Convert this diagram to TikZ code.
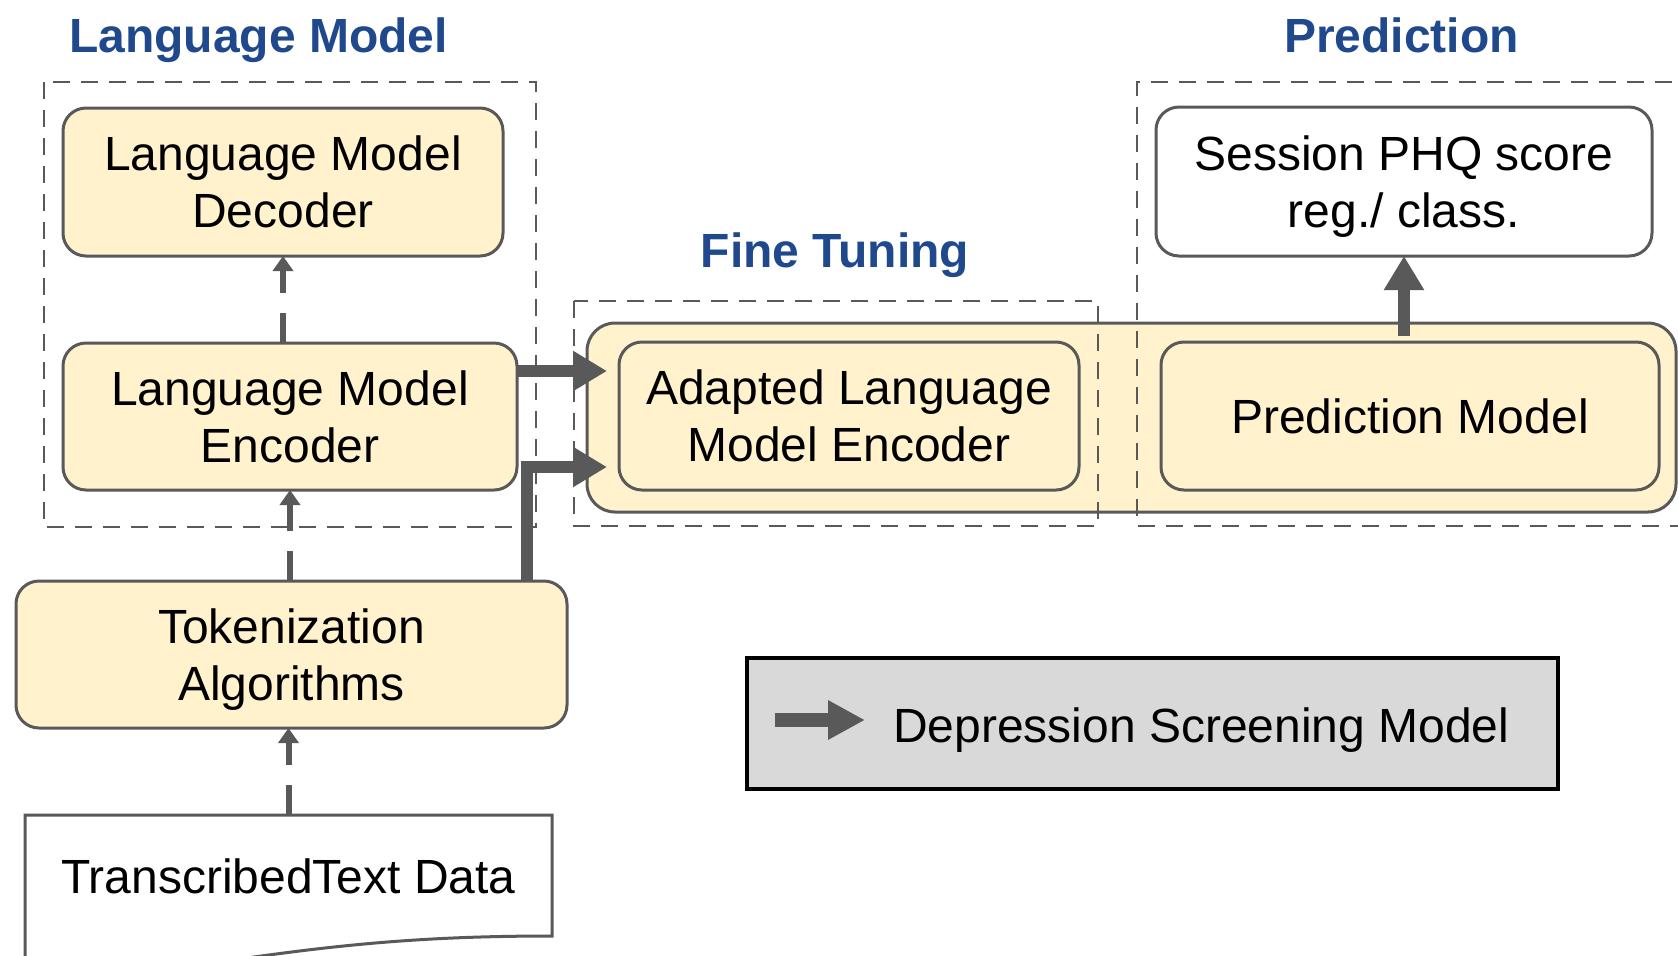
\documentclass[tikz,border=0pt]{standalone}
\usepackage{fontspec}
\setmainfont{Liberation Sans}
\usetikzlibrary{arrows.meta}
\definecolor{boxfill}{HTML}{FFF2CC}
\definecolor{edgegray}{HTML}{595959}
\definecolor{titleblue}{RGB}{31,73,140}
\definecolor{legendfill}{HTML}{D9D9D9}
\tikzset{
  lbl/.style={font=\fontsize{24}{28.5}\selectfont, align=center, inner sep=0pt, outer sep=0pt},
  ybox/.style={lbl, draw=edgegray, line width=1.5pt, fill=boxfill, rounded corners=11.5pt},
  wbox/.style={lbl, draw=edgegray, line width=1.5pt, fill=white, rounded corners=11.5pt},
  grp/.style={draw=edgegray, line width=1.2pt, dash pattern=on 8.5pt off 5.5pt},
  ttl/.style={font=\fontsize{24}{28.5}\selectfont\bfseries, text=titleblue, inner sep=0pt, anchor=base},
  lmflow/.style={draw=edgegray, line width=3pt, dash pattern=on 15pt off 10pt, -{Triangle[length=7.5pt,width=10pt]}},
  bigflow/.style={draw=edgegray, line width=6pt, -{Triangle[length=17pt,width=19pt]}},
}
\begin{document}
\begin{tikzpicture}[x=0.5pt,y=-0.5pt]
\useasboundingbox (0,0) rectangle (1678,955);
\clip (0,0) rectangle (1678,955);

% group titles
\node[ttl] (tlm) at (258.5,52) {Language Model};
\node[ttl] (tft) at (835,267) {Fine Tuning};
\node[ttl] (tpr) at (1401.5,52) {Prediction};

% shared band behind the fine-tuned encoder and the prediction model
\node[ybox, rounded corners=14pt, minimum width=544.5pt, minimum height=94.5pt] (band) at (1131.5,417.5) {};

% dashed group frames
\draw[grp] (44,82) rectangle (536,527);
\draw[grp] (574,301) rectangle (1098,526);
\draw[grp] (1700,82) -- (1137,82) -- (1137,526) -- (1700,526);

% language model blocks
\node[ybox, minimum width=220pt, minimum height=74pt] (dec) at (283,182) {Language Model\\Decoder};
\node[ybox, minimum width=227pt, minimum height=73.5pt] (enc) at (290,416.5) {Language Model\\Encoder};
\node[ybox, minimum width=275.5pt, minimum height=73.5pt, text depth=0pt] (tok) at (291.5,654.5) {Tokenization\\Algorithms};

% input document
\node[lbl, minimum width=263.5pt, minimum height=61.5pt] (data) at (288.5,876.5) {TranscribedText Data};
\draw[draw=edgegray, line width=1.5pt] (25,965) -- (data.north west) -- (data.north east) -- (552,936)
  .. controls (420,936) and (330,945) .. (200,965);

% fine tuning and prediction blocks
\node[ybox, minimum width=230pt, minimum height=74pt] (ada) at (849,416) {Adapted Language\\Model Encoder};
\node[ybox, minimum width=249pt, minimum height=74pt] (pred) at (1410,416) {Prediction Model};
\node[wbox, minimum width=248pt, minimum height=74.5pt, text depth=0pt] (sess) at (1404,181.5) {Session PHQ score\\reg./ class.};

% legend
\node[draw=black, line width=2pt, fill=legendfill, minimum width=405.5pt, minimum height=65.5pt, inner sep=0pt] (legend) at (1152.5,723.5) {};
\node[lbl, anchor=base west] (legtxt) at (893,742) {Depression Screening Model};
\coordinate (la) at (775,720);
\coordinate (lb) at (865,720);
\draw[bigflow, line width=7pt, -{Triangle[length=18.5pt,width=18.5pt]}] (la) -- (lb);

% language model pre-training flow
\draw[lmflow] (data.north) -- (data.north |- tok.south);
\draw[lmflow] (tok.north -| enc.south) -- (enc.south);
\draw[lmflow] (enc.north -| dec.south) -- (dec.south);

% depression screening flow
\coordinate (in1) at (607,371);
\coordinate (in2) at (607,467);
\coordinate (riser) at (527,0);
\draw[bigflow] (enc.east |- in1) -- (in1);
\draw[bigflow] (tok.north -| riser) |- (in2);
\draw[bigflow] ([yshift=3pt]pred.north -| sess.south) -- (sess.south);
\end{tikzpicture}
\end{document}
